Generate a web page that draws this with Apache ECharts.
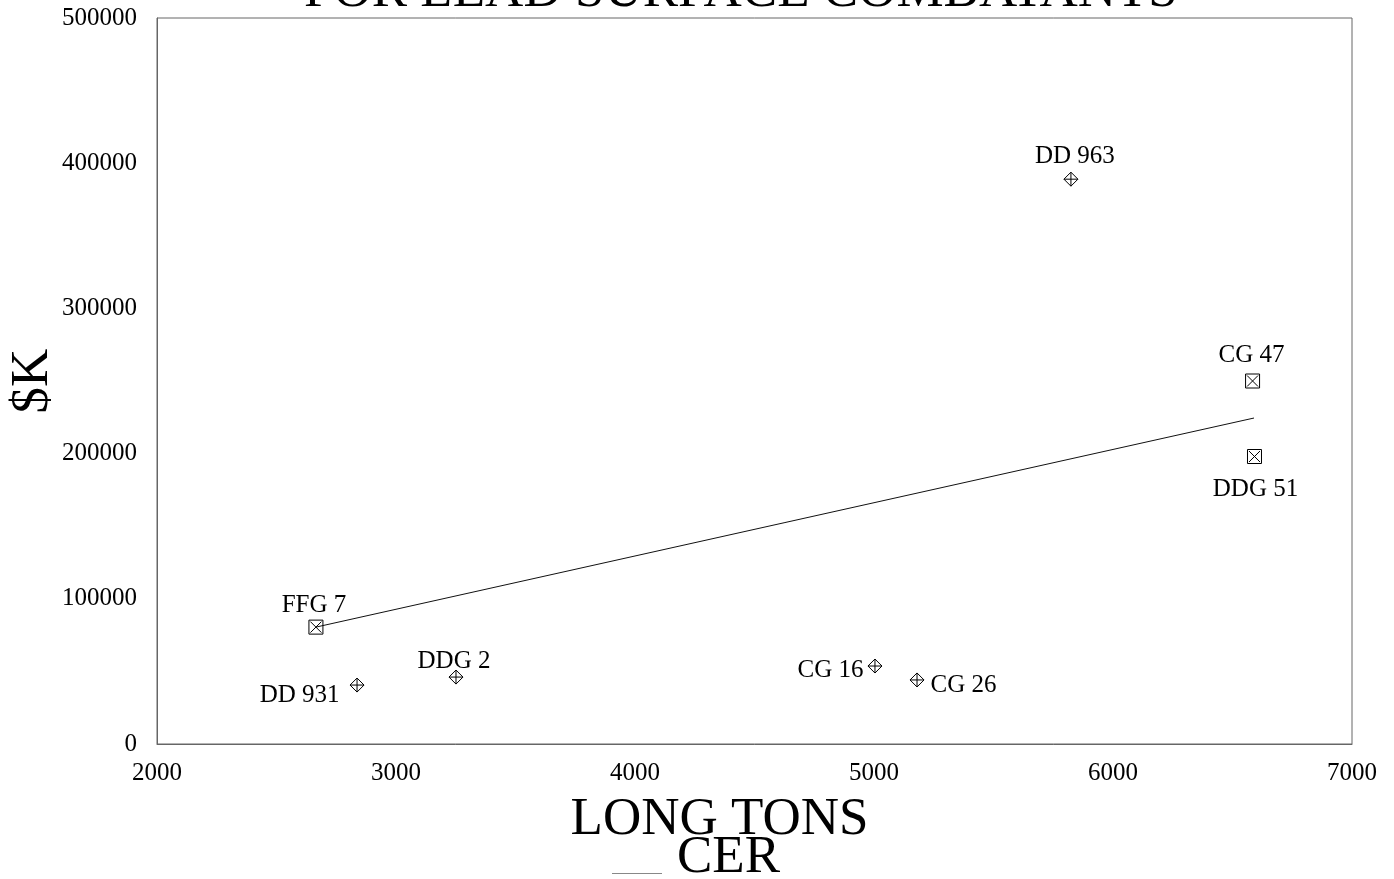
<!DOCTYPE html>
<html>
<head>
<meta charset="utf-8">
<title>Cost vs displacement, lead surface combatants</title>
<script src="https://cdn.jsdelivr.net/npm/echarts@6/dist/echarts.min.js"></script>
<style>
  html, body { margin: 0; padding: 0; background: #fff; }
  #chart { width: 1394px; height: 879px; }
</style>
</head>
<body>
<div id="chart"></div>
<script>
// Ship classes plotted with a boxed-X marker
const boxNames = ['FFG 7', 'CG 47', 'DDG 51'];
const boxTons = [2665, 6584, 6592];
const boxCost = [80500, 250000, 198000];

// Ship classes plotted with a diamond-cross marker
const diamondNames = ['DD 931', 'DDG 2', 'CG 16', 'CG 26', 'DD 963'];
const diamondTons = [2837, 3251, 5004, 5180, 5824];
const diamondCost = [40600, 46100, 53700, 44100, 389000];

// Cost estimating relationship (CER) line end points
const cerTons = [2665, 6590];
const cerCost = [80500, 224500];

// Axis ticks
const xTicks = [2000, 3000, 4000, 5000, 6000, 7000];
const yTicks = [0, 100000, 200000, 300000, 400000, 500000];

const FONT = "'Liberation Serif', 'DejaVu Serif', 'Times New Roman', serif";

// Label placement per ship class
const labelPlace = {
  'FFG 7':  { position: 'top', distance: 2, offset: [-2, 0] },
  'CG 47':  { position: 'top', distance: 6, offset: [-1, 0] },
  'DDG 51': { position: 'bottom', distance: 13, offset: [1, 0] },
  'DD 931': { position: 'left', distance: 10, offset: [0, 10] },
  'DDG 2':  { position: 'top', distance: 0, offset: [-2, 4] },
  'CG 16':  { position: 'left', distance: 4, offset: [0, 4] },
  'CG 26':  { position: 'right', distance: 6, offset: [0, 5] },
  'DD 963': { position: 'top', distance: 3, offset: [4, 0] }
};

const boxSymbol = 'path://M0,0 L14,0 L14,14 L0,14 Z M1.5,1.5 L12.5,12.5 M12.5,1.5 L1.5,12.5';
const diamondSymbol = 'path://M7,0 L14,7 L7,14 L0,7 Z M7,0 L7,14 M0,7 L14,7';

const labelStyle = {
  fontFamily: FONT,
  fontSize: 25,
  color: '#000',
  textBorderWidth: 0,
  opacity: 1
};

function points(names, xs, ys) {
  return names.map((n, i) => ({
    name: n,
    value: [xs[i], ys[i]],
    label: Object.assign({ show: true, formatter: n }, labelStyle, labelPlace[n])
  }));
}

const markerStyle = {
  color: 'rgba(0,0,0,0)',
  borderColor: '#000',
  borderWidth: 1,
  opacity: 1
};

const plain = v => String(v);

const chart = echarts.init(document.getElementById('chart'), null, { renderer: 'canvas' });

chart.setOption({
  animation: false,
  backgroundColor: '#fff',
  title: {
    text: 'FOR LEAD SURFACE COMBATANTS',
    left: 304,
    top: -34,
    padding: 0,
    textStyle: { fontFamily: FONT, fontSize: 53, fontWeight: 'normal', color: '#000' }
  },
  legend: {
    data: ['CER'],
    left: 612,
    top: 832,
    padding: 0,
    itemWidth: 50,
    itemHeight: 36,
    icon: 'rect',
    itemStyle: { color: 'rgba(0,0,0,0)', borderWidth: 0 },
    textStyle: { fontFamily: FONT, fontSize: 53, color: '#000', padding: [0, 0, 0, 10] },
    selectedMode: false
  },
  // legend sample stroke, sitting on the text baseline
  graphic: [{
    type: 'line',
    silent: true,
    shape: { x1: 612, y1: 873.5, x2: 662, y2: 873.5 },
    style: { stroke: '#888', lineWidth: 1 }
  }],
  grid: {
    left: 157,
    right: 42,
    top: 18,
    bottom: 135,
    show: true,
    borderColor: '#666',
    borderWidth: 1,
    containLabel: false,
    outerBoundsMode: 'none'
  },
  xAxis: {
    type: 'value',
    min: xTicks[0],
    max: xTicks[xTicks.length - 1],
    interval: xTicks[1] - xTicks[0],
    name: 'LONG TONS',
    nameLocation: 'middle',
    nameGap: 50,
    nameMoveOverlap: false,
    nameTextStyle: { fontFamily: FONT, fontSize: 53, color: '#000', padding: [0, 70, 0, 0] },
    axisLine: { show: true, lineStyle: { color: '#666', width: 1 } },
    axisTick: { show: false },
    splitLine: { show: false },
    axisLabel: { fontFamily: FONT, fontSize: 25, color: '#000', margin: 17, formatter: plain }
  },
  yAxis: {
    type: 'value',
    min: yTicks[0],
    max: yTicks[yTicks.length - 1],
    interval: yTicks[1] - yTicks[0],
    name: '$K',
    nameLocation: 'middle',
    nameGap: 97,
    nameMoveOverlap: false,
    nameTextStyle: { fontFamily: FONT, fontSize: 53, color: '#000' },
    axisLine: { show: true, lineStyle: { color: '#666', width: 1 } },
    axisTick: { show: false },
    splitLine: { show: false },
    axisLabel: { fontFamily: FONT, fontSize: 25, color: '#000', margin: 20, formatter: plain }
  },
  series: [
    {
      name: 'CER',
      type: 'line',
      data: cerTons.map((t, i) => [t, cerCost[i]]),
      symbol: 'none',
      lineStyle: { color: '#111', width: 1 },
      silent: true,
      z: 1
    },
    {
      name: 'Boxed',
      type: 'scatter',
      symbol: boxSymbol,
      symbolSize: 14,
      data: points(boxNames, boxTons, boxCost),
      itemStyle: markerStyle,
      label: labelStyle,
      emphasis: { disabled: true },
      z: 3
    },
    {
      name: 'Diamond',
      type: 'scatter',
      symbol: diamondSymbol,
      symbolSize: 14,
      data: points(diamondNames, diamondTons, diamondCost),
      itemStyle: markerStyle,
      label: labelStyle,
      emphasis: { disabled: true },
      z: 3
    }
  ]
});
</script>
</body>
</html>
